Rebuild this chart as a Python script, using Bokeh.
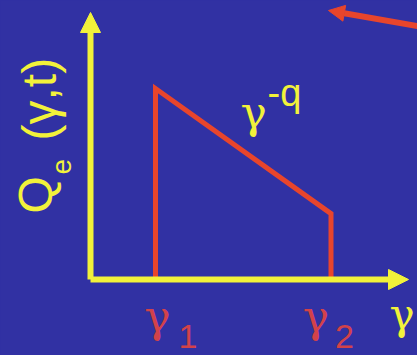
import math
from bokeh.plotting import figure
from bokeh.models import Range1d, Arrow, NormalHead, GlobalInlineStyleSheet
from bokeh.core.properties import value
from bokeh.embed import file_html
from bokeh.resources import INLINE

# ---- data ----
gamma_breaks = [1.0, 3.7]          # gamma_1, gamma_2
q_at_breaks = [1.0, 0.345]         # Q_e at gamma_1 and gamma_2
break_subscripts = ["1", "2"]
slope_label = "-q"
x_axis_label = "γ"
y_axis_parts = ["Q", "e", "(γ,t)"]

BG = "#3131a3"
YELLOW = "#f2f23a"
RED = "#e8452c"
RED_TEXT = "#d2424a"
K = 0.35   # baseline correction (fraction of font size)

# helpers: map reference pixel geometry to data units
def X(px):
    return (px - 90) / 65.0

def Y(py):
    return (279 - py) / 191.0

p = figure(width=417, height=355, output_backend="svg", toolbar_location=None,
           x_range=Range1d(X(0), X(417)), y_range=Range1d(Y(355), Y(0)),
           min_border=0, background_fill_color=BG, border_fill_color=BG,
           outline_line_color=None)
p.axis.visible = False
p.grid.visible = False
p.stylesheets = [GlobalInlineStyleSheet(css="body { background-color: %s; }" % BG)]

# ---- the injected spectrum shape ----
xs = [gamma_breaks[0], gamma_breaks[0], gamma_breaks[1], gamma_breaks[1]]
ys = [0.0, q_at_breaks[0], q_at_breaks[1], 0.0]
p.line(xs, ys, line_color=RED, line_width=5, line_join="miter")

# ---- axes as yellow arrows ----
p.add_layout(Arrow(x_start=0, y_start=0, x_end=X(408), y_end=0,
                   line_color=YELLOW, line_width=6,
                   end=NormalHead(size=20, fill_color=YELLOW, line_color=YELLOW, line_width=1)))
p.add_layout(Arrow(x_start=0, y_start=0, x_end=0, y_end=Y(12),
                   line_color=YELLOW, line_width=6,
                   end=NormalHead(size=20, fill_color=YELLOW, line_color=YELLOW, line_width=1)))

# ---- red pointer arrow in the corner ----
p.add_layout(Arrow(x_start=X(425), y_start=Y(27), x_end=X(328), y_end=Y(10),
                   line_color=RED, line_width=6,
                   end=NormalHead(size=16, fill_color=RED, line_color=RED, line_width=1)))

serif = value("DejaVu Serif")
sans = value("Liberation Sans")

def label(px, baseline, txt, color, font, fs, align="left"):
    p.text(x=[X(px)], y=[Y(baseline - K * fs)], text=[txt], text_color=color,
           text_font=font, text_font_size=value("%dpx" % fs), text_align=align,
           text_baseline="alphabetic")

# slope label gamma^-q
label(240, 127, "γ", YELLOW, serif, 44)
label(267, 106, slope_label, YELLOW, sans, 38)

# break labels gamma_1, gamma_2
gamma_dx = [2, -15]
sub_dx = [23, 4]
for gx, sub, gdx, sdx in zip(gamma_breaks, break_subscripts, gamma_dx, sub_dx):
    base_px = 90 + gx * 65
    label(base_px + gdx, 331, "γ", RED_TEXT, serif, 44, align="center")
    label(base_px + sdx, 348, sub, RED_TEXT, sans, 34)

# x axis label
label(389, 329, x_axis_label, YELLOW, serif, 42)

# y axis label (rotated)
ang = math.pi / 2
def vlabel(baseline_px, start_py, txt, fs):
    p.text(x=[X(baseline_px - K * fs)], y=[Y(start_py)], text=[txt], angle=ang,
           text_color=YELLOW, text_font=sans, text_font_size=value("%dpx" % fs),
           text_align="left", text_baseline="alphabetic")

vlabel(52, 213, y_axis_parts[0], 48)
vlabel(71, 174, y_axis_parts[1], 28)
vlabel(56, 140, y_axis_parts[2], 48)

open("out.html", "w").write(file_html(p, INLINE))
